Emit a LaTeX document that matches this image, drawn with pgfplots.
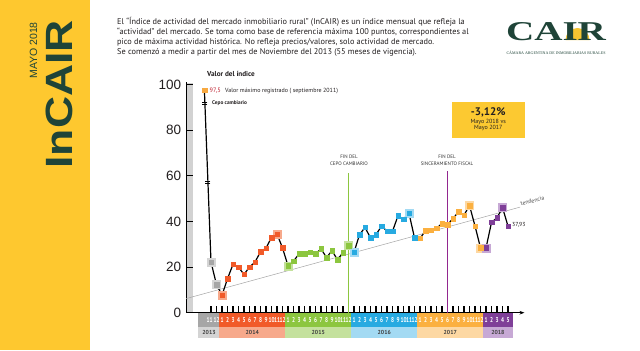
\documentclass[border=0pt]{standalone}
\usepackage{pgfplots}
\pgfplotsset{compat=1.18}
\usepackage{fontspec}
\setmainfont{PT Sans}
\newfontfamily\arial{Liberation Sans}
\newfontfamily\serifcair{Liberation Serif}
\usetikzlibrary{arrows.meta}
\definecolor{bannerY}{HTML}{FEC82F}
\definecolor{dkgreen}{HTML}{1F4438}
\definecolor{txt}{HTML}{231F20}
\definecolor{crim}{HTML}{BE1E2D}
\definecolor{boxY}{HTML}{FCC931}
\definecolor{sunY}{HTML}{F6C431}
\definecolor{cI}{HTML}{F7A941}
\definecolor{cA}{HTML}{A6A6A6}\definecolor{cAl}{HTML}{D4D4D4}
\definecolor{cB}{HTML}{F15A29}\definecolor{cBl}{HTML}{F7A98B}
\definecolor{cC}{HTML}{8CC63F}\definecolor{cCl}{HTML}{C4E19D}
\definecolor{cD}{HTML}{27AAE1}\definecolor{cDl}{HTML}{A3DAF3}
\definecolor{cE}{HTML}{FBB040}\definecolor{cEl}{HTML}{FDD8A3}
\definecolor{cF}{HTML}{7F3F98}\definecolor{cFl}{HTML}{C7A9D5}
\definecolor{vpur}{HTML}{92278F}
\newcommand{\fs}[1]{\fontsize{#1bp}{#1bp}\selectfont}
\begin{document}
\begin{tikzpicture}[x=1bp,y=1bp]
\useasboundingbox (0,0) rectangle (640,350);
\fill[white] (0,0) rectangle (640,350);
% banner
\fill[bannerY] (0,0) rectangle (90,350);
\node[rotate=90, anchor=base east, inner sep=0pt, text=dkgreen, font=\arial\bfseries\fs{38}] at (72,330) {\scalebox{1.17}[1]{InCAIR}};
\node[rotate=90, anchor=base east, inner sep=0pt, text=dkgreen, font=\arial\fs{10.5}] at (37,328) {MAYO 2018};
% paragraph
\begin{scope}[every node/.style={anchor=base west, inner sep=0pt, text=txt, font=\fs{8.3}}]
\node at (117,326) {El “Índice de actividad del mercado inmobiliario rural” (InCAIR) es un índice mensual que refleja la};
\node at (117,315.7) {“actividad” del mercado. Se toma como base de referencia máxima 100 puntos, correspondientes al};
\node at (117,305.4) {pico de máxima actividad histórica. No refleja precios/valores, solo actividad de mercado.};
\node at (117,295.1) {Se comenzó a medir a partir del mes de Noviembre del 2013 (55 meses de vigencia).};
\end{scope}
% logo
\fill[sunY] (565.5,310) arc (180:0:12) -- cycle;
\node[anchor=base, inner sep=0pt, text=dkgreen] at (556,310) {\resizebox{100bp}{18bp}{\serifcair\bfseries CAIR}};
\node[inner sep=0pt, text=dkgreen] at (556,297) {\resizebox{99bp}{!}{\serifcair CÁMARA ARGENTINA DE INMOBILIARIAS RURALES}};
% grey bar by y axis
\fill[gray!35] (187,37.3) rectangle (193,267.3);
% month bands
\fill[cA] (198.3,23.3) rectangle (219.25,36.7); \fill[cAl] (198.3,11.7) rectangle (219.25,23.3);
\fill[cB] (219.25,23.3) rectangle (285.25,36.7); \fill[cBl] (219.25,11.7) rectangle (285.25,23.3);
\fill[cC] (285.25,23.3) rectangle (351.25,36.7); \fill[cCl] (285.25,11.7) rectangle (351.25,23.3);
\fill[cD] (351.25,23.3) rectangle (417.25,36.7); \fill[cDl] (351.25,11.7) rectangle (417.25,23.3);
\fill[cE] (417.25,23.3) rectangle (483.25,36.7); \fill[cEl] (417.25,11.7) rectangle (483.25,23.3);
\fill[cF] (483.25,23.3) rectangle (512.5,36.7); \fill[cFl] (483.25,11.7) rectangle (512.5,23.3);
\begin{scope}[every node/.style={inner sep=0pt, text=white, font=\bfseries\fs{7}}]
\node at (209.5,30) {\scalebox{0.75}[1]{11}};
\node at (216.5,30) {\scalebox{0.75}[1]{12}};
\foreach \m in {1,...,12} {\node at ({211+5.5*(\m+1)},30) {\scalebox{0.75}[1]{\m}};}
\foreach \m in {1,...,12} {\node at ({211+5.5*(\m+13)},30) {\scalebox{0.75}[1]{\m}};}
\foreach \m in {1,...,12} {\node at ({211+5.5*(\m+25)},30) {\scalebox{0.75}[1]{\m}};}
\foreach \m in {1,...,12} {\node at ({211+5.5*(\m+37)},30) {\scalebox{0.75}[1]{\m}};}
\foreach \m in {1,...,5} {\node at ({211+5.5*(\m+49)},30) {\scalebox{0.75}[1]{\m}};}
\end{scope}
\begin{scope}[every node/.style={inner sep=0pt, text=black!75, font=\bfseries\fs{5.8}}]
\node at (209,17.5) {2013};
\node at (252.25,17.5) {2014};
\node at (318.25,17.5) {2015};
\node at (384.25,17.5) {2016};
\node at (450.25,17.5) {2017};
\node at (497.9,17.5) {2018};
\end{scope}
\begin{axis}[
  at={(186.25bp,37.3bp)}, anchor=south west,
  scale only axis, width=338.25bp, height=230.38bp,
  xmin=-4.5, xmax=57, ymin=0, ymax=101,
  axis x line=bottom, axis y line=left,
  x axis line style={line width=1bp, -{Stealth[length=5bp,width=3.5bp]}},
  y axis line style={line width=1.3bp, -},
  xtick={0,...,54}, xticklabels={},
  ytick={0,20,...,100},
  tick align=inside, major tick length=6.5bp,
  tick style={black, line width=1.1bp},
  yticklabel style={font=\arial\fs{13.5}, text=txt, xshift=-1.5bp},
  /pgf/number format/assume math mode=true,
  clip=false,
]
\addplot[gray!70, line width=0.5bp] coordinates {(-4.5,6.2) (56.2,46.3)};
\addplot[cC, line width=1bp] coordinates {(25,0) (25,61.2)};
\addplot[vpur, line width=1bp] coordinates {(43,0) (43,62.3)};
% halos
\addplot[only marks, mark=square*, mark size=4bp, cAl] coordinates {(0,22.2) (1,12.3)};
\addplot[only marks, mark=square*, mark size=4bp, cBl] coordinates {(2,7.7) (12,34.5)};
\addplot[only marks, mark=square*, mark size=4bp, cCl] coordinates {(14,20.6) (25,29.4)};
\addplot[only marks, mark=square*, mark size=4bp, cDl] coordinates {(26,26.5) (36,43.6)};
\addplot[only marks, mark=square*, mark size=4bp, cEl] coordinates {(47,47.0) (49,28.4)};
\addplot[only marks, mark=square*, mark size=4bp, cFl] coordinates {(50,28.4) (53,46.1)};
% main line
\addplot[black, line width=1.2bp, mark=none] coordinates {
(-1.2,97.5) (0,22.2) (1,12.3) (2,7.7) (3,14.9) (4,21.2) (5,19.9) (6,16.8) (7,20.0) (8,22.2) (9,26.7) (10,28.3) (11,33.0) (12,34.5) (13,28.4)
(14,20.6) (15,22.6) (16,25.8) (17,25.8) (18,26.5) (19,25.8) (20,28.0) (21,24.2) (22,27.2) (23,23.2) (24,26.4) (25,29.4)
(26,26.5) (27,34.2) (28,37.4) (29,32.8) (30,34.2) (31,38.0) (32,35.8) (33,35.7) (34,42.5) (35,41.0) (36,43.6) (37,32.8)
(38,32.6) (39,35.9) (40,36.2) (41,37.0) (42,39.1) (43,38.7) (44,41.2) (45,44.3) (46,42.8) (47,47.0) (48,38.0) (49,28.4)
(50,28.4) (51,39.6) (52,41.6) (53,46.1) (54,37.93)};
% markers
\addplot[only marks, mark=square*, mark size=2.3bp, cI] coordinates {(-1.2,97.5)};
\addplot[only marks, mark=square*, mark size=2.3bp, cA] coordinates {(0,22.2) (1,12.3)};
\addplot[only marks, mark=square*, mark size=2.3bp, cB] coordinates {(2,7.7) (3,14.9) (4,21.2) (5,19.9) (6,16.8) (7,20.0) (8,22.2) (9,26.7) (10,28.3) (11,33.0) (12,34.5) (13,28.4)};
\addplot[only marks, mark=square*, mark size=2.3bp, cC] coordinates {(14,20.6) (15,22.6) (16,25.8) (17,25.8) (18,26.5) (19,25.8) (20,28.0) (21,24.2) (22,27.2) (23,23.2) (24,26.4) (25,29.4)};
\addplot[only marks, mark=square*, mark size=2.3bp, cD] coordinates {(26,26.5) (27,34.2) (28,37.4) (29,32.8) (30,34.2) (31,38.0) (32,35.8) (33,35.7) (34,42.5) (35,41.0) (36,43.6) (37,32.8)};
\addplot[only marks, mark=square*, mark size=2.3bp, cE] coordinates {(38,32.6) (39,35.9) (40,36.2) (41,37.0) (42,39.1) (43,38.7) (44,41.2) (45,44.3) (46,42.8) (47,47.0) (48,38.0) (49,28.4)};
\addplot[only marks, mark=square*, mark size=2.3bp, cF] coordinates {(50,28.4) (51,39.6) (52,41.6) (53,46.1) (54,37.93)};
% break marks
\addplot[only marks, mark=-, mark size=2.5bp, black, line width=0.6bp] coordinates {(-1.11,92.3) (-1.11,91.5) (-0.56,57.6) (-0.56,56.8)};
\end{axis}
% labels
\node[anchor=west, inner sep=0pt, text=txt, font=\bfseries\fs{7.2}] at (207,276) {Valor del índice};
\node[anchor=west, inner sep=0pt, text=crim, font=\fs{6.3}] at (209.5,259) {97,5};
\node[anchor=west, inner sep=0pt, text=txt, font=\fs{6}] at (225,259) {Valor máximo registrado ( septiembre 2011)};
\node[anchor=west, inner sep=0pt, text=txt, font=\bfseries\fs{5.3}] at (212,247) {Cepo cambiario};
\begin{scope}[every node/.style={inner sep=0pt, text=black!80, font=\fs{5}}]
\node at (349,193) {FIN DEL};
\node at (349,186.5) {CEPO CAMBIARIO};
\node at (447,193) {FIN DEL};
\node at (447,186.5) {SINCERAMIENTO FISCAL};
\end{scope}
\fill[boxY] (451.7,212.3) rectangle (525,248.3);
\node[inner sep=0pt, text=txt, font=\bfseries\fs{11}] at (488.3,237.5) {-3,12\%};
\node[inner sep=0pt, text=txt, font=\fs{6}] at (488.3,227.7) {Mayo 2018 vs};
\node[inner sep=0pt, text=txt, font=\fs{6}] at (488.3,221.7) {Mayo 2017};
\node[anchor=base west, rotate=15, inner sep=0pt, text=black!70, font=\fs{5.8}] at (521,144) {tendencia};
\node[anchor=west, inner sep=0pt, text=txt, font=\fs{5.8}] at (512,125) {37,93};
\end{tikzpicture}
\end{document}
